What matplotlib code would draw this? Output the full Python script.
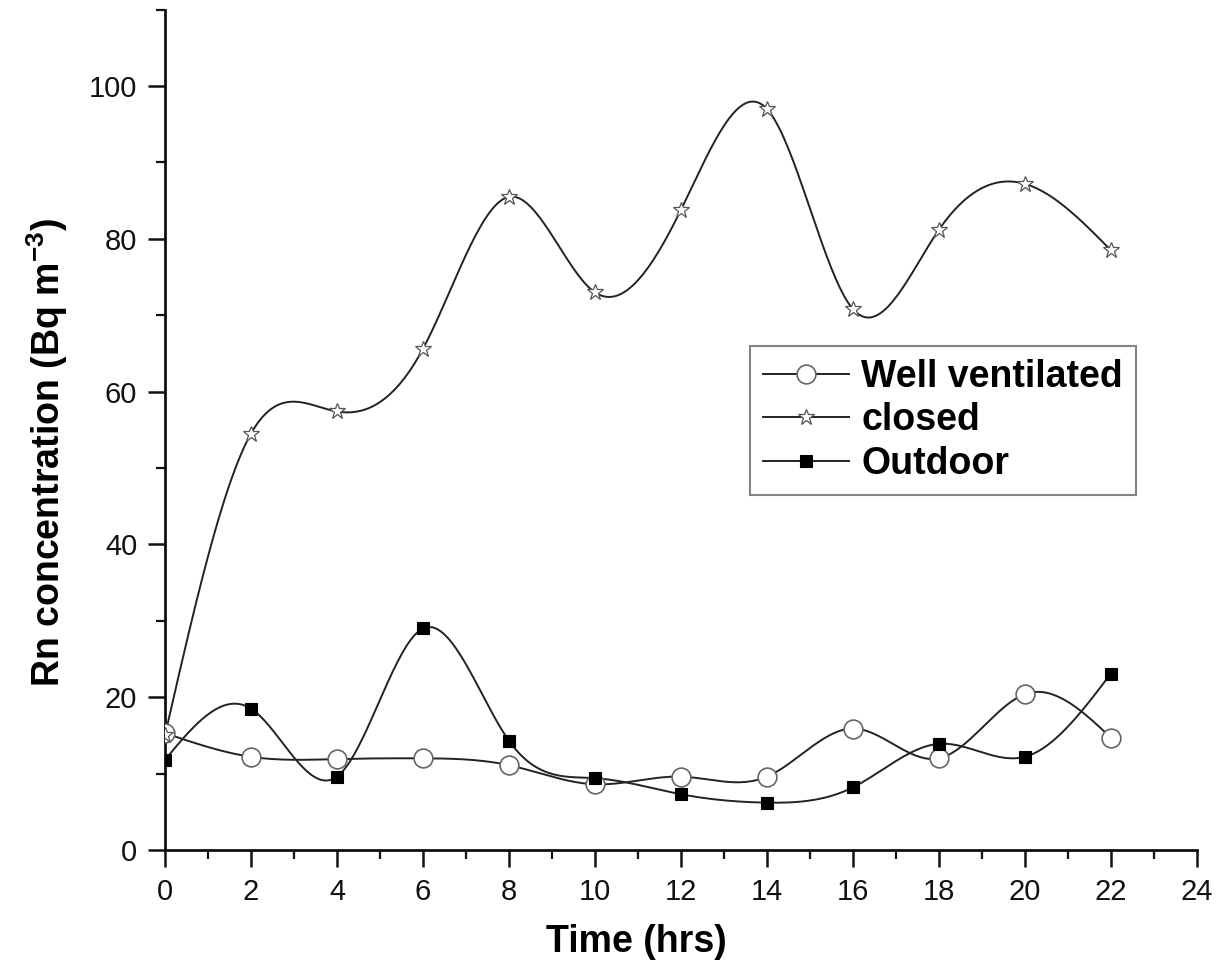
import numpy as np
import matplotlib
matplotlib.use("Agg")
import matplotlib.pyplot as plt
from matplotlib.ticker import MultipleLocator
from matplotlib import font_manager

# ---- data ----
hours = [0, 2, 4, 6, 8, 10, 12, 14, 16, 18, 20, 22]
well_ventilated = [15.3, 12.2, 11.9, 12.0, 11.1, 8.6, 9.6, 9.6, 15.9, 12.0, 20.4, 14.7]
closed = [15.0, 54.5, 57.4, 65.6, 85.5, 73.0, 83.8, 97.0, 70.8, 81.2, 87.2, 78.5]
outdoor = [11.8, 18.5, 9.6, 29.0, 14.3, 9.4, 7.3, 6.2, 8.2, 13.9, 12.2, 23.1]
x_ticks = [0, 2, 4, 6, 8, 10, 12, 14, 16, 18, 20, 22, 24]
y_ticks = [0, 20, 40, 60, 80, 100]


def natural_spline(x, y, n=400):
    x = np.asarray(x, float)
    y = np.asarray(y, float)
    m = len(x)
    h = np.diff(x)
    A = np.zeros((m, m))
    b = np.zeros(m)
    A[0, 0] = 1
    A[-1, -1] = 1
    for i in range(1, m - 1):
        A[i, i - 1] = h[i - 1]
        A[i, i] = 2 * (h[i - 1] + h[i])
        A[i, i + 1] = h[i]
        b[i] = 6 * ((y[i + 1] - y[i]) / h[i] - (y[i] - y[i - 1]) / h[i - 1])
    M = np.linalg.solve(A, b)
    xs = np.linspace(x[0], x[-1], n)
    idx = np.clip(np.searchsorted(x, xs) - 1, 0, m - 2)
    x0, x1 = x[idx], x[idx + 1]
    hh = x1 - x0
    t0 = x1 - xs
    t1 = xs - x0
    ys = (M[idx] * t0 ** 3 / (6 * hh) + M[idx + 1] * t1 ** 3 / (6 * hh)
          + (y[idx] / hh - M[idx] * hh / 6) * t0
          + (y[idx + 1] / hh - M[idx + 1] * hh / 6) * t1)
    return xs, ys


names = {f.name for f in font_manager.fontManager.ttflist}
if 'Liberation Sans Narrow' in names:
    narrow = 'Liberation Sans Narrow'
    lab_size = 32
else:
    narrow = 'Liberation Sans'
    lab_size = 27

plt.rcParams['font.family'] = ['Liberation Sans', 'DejaVu Sans']
plt.rcParams['mathtext.fontset'] = 'custom'
plt.rcParams['mathtext.bf'] = narrow + ':bold'
plt.rcParams['mathtext.rm'] = narrow
plt.rcParams['mathtext.default'] = 'bf'

fig = plt.figure(figsize=(12.22, 9.67), dpi=100)
ax = fig.add_axes([0.135, 0.121, 0.8445, 0.869])

lc = '#222222'
lw = 1.4

series = [
    (well_ventilated, 'Well ventilated', dict(marker='o', markersize=13.5, markerfacecolor='white',
                                                markeredgecolor='#666666', markeredgewidth=1.2)),
    (closed, 'closed', dict(marker='*', markersize=12, markerfacecolor='white',
                             markeredgecolor='#555555', markeredgewidth=0.9)),
    (outdoor, 'Outdoor', dict(marker='s', markersize=8, markerfacecolor='black',
                               markeredgecolor='black', markeredgewidth=0.8)),
]

for vals, label, mk in series:
    xs, ys = natural_spline(hours, vals)
    ax.plot(xs, ys, color=lc, lw=lw, zorder=2)
    ax.plot(hours, vals, linestyle='none', zorder=3, **mk)
    ax.plot([], [], color=lc, lw=lw, label=label, **mk)

ax.set_xlim(0, 24)
ax.set_ylim(0, 110)
ax.set_xticks(x_ticks)
ax.set_yticks(y_ticks)
ax.xaxis.set_minor_locator(MultipleLocator(1))
ax.yaxis.set_minor_locator(MultipleLocator(10))

for s in ['top', 'right']:
    ax.spines[s].set_visible(False)
for s in ['left', 'bottom']:
    ax.spines[s].set_linewidth(2.0)
    ax.spines[s].set_color('#111111')

ax.tick_params(axis='both', which='major', direction='out', length=12, width=1.8,
               labelsize=21, pad=8, colors='#111111')
ax.tick_params(axis='both', which='minor', direction='out', length=6.5, width=1.6,
               colors='#111111')

ax.set_xlabel('Time (hrs)', fontsize=lab_size, fontweight='bold', family=narrow, va='center')
ax.xaxis.set_label_coords(0.457, -0.1095)
ax.set_ylabel(r'Rn concentration (Bq m$^{-3}$)', fontsize=lab_size, fontweight='bold',
              family=narrow, va='center')
ax.yaxis.set_label_coords(-0.114, 0.4726)

leg = ax.legend(loc='upper left', bbox_to_anchor=(0.567, 0.6),
                prop={'weight': 'bold', 'size': 27}, frameon=True, fancybox=False,
                edgecolor='#666666', handlelength=2.3, handletextpad=0.32,
                labelspacing=0.2, borderpad=0.35, borderaxespad=0)
leg.get_frame().set_linewidth(1.5)

fig.savefig('out.png', dpi=100, facecolor='white')
